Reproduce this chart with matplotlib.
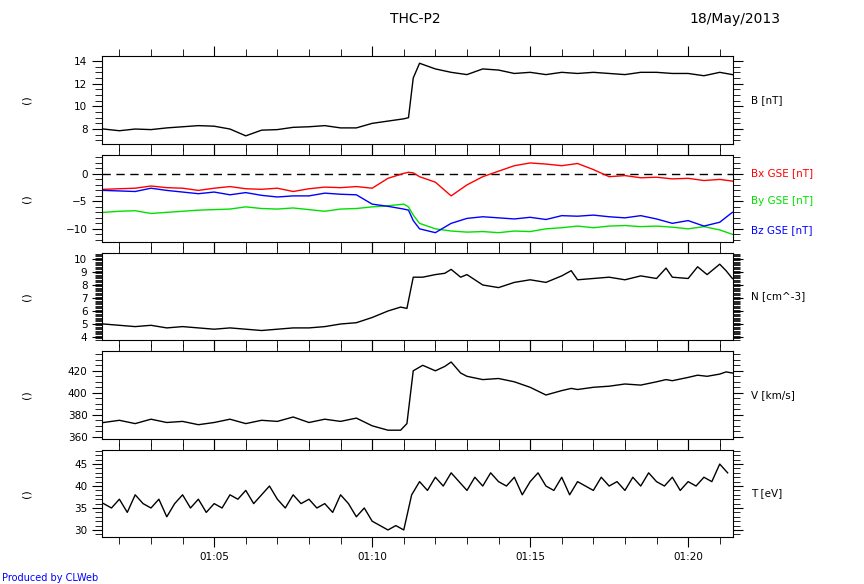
import matplotlib
matplotlib.use("Agg")
import matplotlib.pyplot as plt
import numpy as np
from matplotlib.ticker import MultipleLocator, FuncFormatter

# ─── Data (minutes after 01:00 UT) ─────────────────────────────────────────────
t_b = [1.5, 2, 2.5, 3, 3.5, 4, 4.5, 5, 5.5, 6, 6.5, 7, 7.5, 8, 8.5, 9, 9.5, 10,
       10.5, 11, 11.15, 11.3, 11.5, 12, 12.5, 13, 13.5, 14, 14.5, 15, 15.5, 16,
       16.5, 17, 17.5, 18, 18.5, 19, 19.5, 20, 20.5, 21, 21.4]
b_tot = [8.0, 7.85, 8.0, 7.95, 8.1, 8.2, 8.3, 8.25, 8.0, 7.4, 7.9, 7.95, 8.15,
         8.2, 8.3, 8.1, 8.1, 8.5, 8.7, 8.9, 9.0, 12.5, 13.8, 13.3, 13.0, 12.8,
         13.3, 13.2, 12.9, 13.0, 12.8, 13.0, 12.9, 13.0, 12.9, 12.8, 13.0, 13.0,
         12.9, 12.9, 12.7, 13.0, 12.8]
bx = [-2.8, -2.7, -2.6, -2.2, -2.5, -2.6, -3.0, -2.6, -2.3, -2.7, -2.8, -2.6,
      -3.2, -2.7, -2.4, -2.5, -2.3, -2.6, -0.8, 0.1, 0.3, 0.2, -0.5, -1.5,
      -4.0, -2.0, -0.5, 0.5, 1.5, 2.0, 1.8, 1.5, 1.9, 0.8, -0.5, -0.3, -0.7,
      -0.6, -0.9, -0.8, -1.2, -1.0, -1.3]
by = [-7.0, -6.8, -6.7, -7.2, -7.0, -6.8, -6.6, -6.5, -6.4, -6.0, -6.3, -6.4,
      -6.2, -6.5, -6.8, -6.4, -6.3, -6.0, -5.8, -5.5, -6.0, -7.5, -9.0, -10.0,
      -10.4, -10.6, -10.5, -10.7, -10.4, -10.5, -10.0, -9.8, -9.5, -9.8, -9.5,
      -9.4, -9.6, -9.5, -9.7, -10.0, -9.6, -10.2, -11.0]
bz = [-3.0, -3.1, -3.2, -2.6, -3.0, -3.3, -3.6, -3.3, -3.8, -3.4, -3.9, -4.2,
      -4.0, -4.0, -3.5, -3.7, -3.8, -5.5, -5.9, -6.4, -6.6, -8.5, -10.0,
      -10.7, -9.0, -8.1, -7.8, -8.0, -8.2, -7.9, -8.3, -7.6, -7.7, -7.5, -7.8,
      -8.0, -7.6, -8.2, -9.0, -8.5, -9.5, -8.8, -7.0]

t_p = [1.5, 2, 2.5, 3, 3.5, 4, 4.5, 5, 5.5, 6, 6.5, 7, 7.5, 8, 8.5, 9, 9.5, 10,
       10.5, 10.9, 11.1, 11.3, 11.6, 12, 12.3, 12.5, 12.8, 13, 13.5, 14, 14.5,
       15, 15.5, 16, 16.3, 16.5, 17, 17.5, 18, 18.5, 19, 19.3, 19.5, 20, 20.3,
       20.6, 21, 21.2, 21.4]
dens = [5.0, 4.9, 4.8, 4.9, 4.7, 4.8, 4.7, 4.6, 4.7, 4.6, 4.5, 4.6, 4.7, 4.7,
        4.8, 5.0, 5.1, 5.5, 6.0, 6.3, 6.2, 8.6, 8.6, 8.8, 8.9, 9.2, 8.6, 8.8,
        8.0, 7.8, 8.2, 8.4, 8.2, 8.7, 9.1, 8.4, 8.5, 8.6, 8.4, 8.7, 8.5, 9.3,
        8.6, 8.5, 9.4, 8.8, 9.6, 9.1, 8.5]
vel = [373, 375, 372, 376, 373, 374, 371, 373, 376, 372, 375, 374, 378, 373,
       376, 374, 377, 370, 366, 366, 372, 420, 425, 420, 424, 428, 418, 415,
       412, 413, 410, 405, 398, 402, 404, 403, 405, 406, 408, 407, 410, 412,
       411, 414, 416, 415, 417, 419, 418]

t_t = list(np.arange(1.5, 21.5, 0.25))
temp = [36, 35, 37, 34, 38, 36, 35, 37, 33, 36, 38, 35, 37, 34, 36, 35, 38, 37,
        39, 36, 38, 40, 37, 35, 38, 36, 37, 35, 36, 34, 38, 36, 33, 35, 32, 31,
        30, 31, 30, 38, 41, 39, 42, 40, 43, 41, 39, 42, 40, 43, 41, 40, 42, 38,
        41, 43, 40, 39, 42, 38, 41, 40, 39, 42, 40, 41, 39, 42, 40, 43, 41, 40,
        42, 39, 41, 40, 42, 41, 45, 43]

right_labels = ["B [nT]", None, "N [cm^-3]", "V [km/s]", "T [eV]"]
ylims = [(6.68, 14.44), (-12.4, 3.45), (3.77, 10.46), (358, 438), (28.4, 48.2)]
ymaj = [2, 5, 1, 20, 5]
ymin = [0.5, 1, 0.1, 5, 1]

fig = plt.figure(figsize=(8.64, 5.84), dpi=100)
W, H = 864, 584
panels = [(56, 144), (155, 242), (253, 340), (351, 439), (450, 537)]
x0, x1 = 102, 733
axes = []
for (top, bot) in panels:
    ax = fig.add_axes([x0 / W, 1 - bot / H, (x1 - x0) / W, (bot - top) / H])
    axes.append(ax)

axes[0].plot(t_b, b_tot, color="black", lw=1)
axes[1].axhline(0, color="black", ls=(0, (6, 4)), lw=1)
axes[1].plot(t_b, bx, color="red", lw=1)
axes[1].plot(t_b, by, color="#00e000", lw=1)
axes[1].plot(t_b, bz, color="blue", lw=1)
axes[2].plot(t_p, dens, color="black", lw=1)
axes[3].plot(t_p, vel, color="black", lw=1)
axes[4].plot(t_t, temp, color="black", lw=1)

fmt_time = FuncFormatter(lambda v, p: f"01:{int(round(v)):02d}")
for i, ax in enumerate(axes):
    ax.set_xlim(1.45, 21.42)
    ax.set_ylim(*ylims[i])
    ax.xaxis.set_major_locator(MultipleLocator(5))
    ax.xaxis.set_minor_locator(MultipleLocator(1))
    ax.yaxis.set_major_locator(MultipleLocator(ymaj[i]))
    ax.yaxis.set_minor_locator(MultipleLocator(ymin[i]))
    ax.tick_params(which="both", direction="out", top=True, right=True,
                   labelsize=7.5)
    ax.tick_params(which="major", length=7)
    ax.tick_params(which="minor", length=5)
    if i < 4:
        ax.set_xticklabels([])
    else:
        ax.xaxis.set_major_formatter(fmt_time)
    ax.text(-0.12, 0.5, "()", transform=ax.transAxes, rotation=90,
            ha="center", va="center", fontsize=8)
    if right_labels[i]:
        ax.text(1.028, 0.5, right_labels[i], transform=ax.transAxes,
                ha="left", va="center", fontsize=7.5)

axes[1].text(1.028, 0.79, "Bx GSE [nT]", transform=axes[1].transAxes,
             color="red", fontsize=7.5, va="center")
axes[1].text(1.028, 0.47, "By GSE [nT]", transform=axes[1].transAxes,
             color="#00e000", fontsize=7.5, va="center")
axes[1].text(1.028, 0.14, "Bz GSE [nT]", transform=axes[1].transAxes,
             color="blue", fontsize=7.5, va="center")

fig.text(415 / W, 1 - 19 / H, "THC-P2", ha="center", va="center", fontsize=10)
fig.text(780 / W, 1 - 19 / H, "18/May/2013", ha="right", va="center",
         fontsize=10)
fig.text(2 / W, 1 - 578 / H, "Produced by CLWeb", color="blue", fontsize=7,
         ha="left", va="center")

fig.savefig("out.png", dpi=100)
